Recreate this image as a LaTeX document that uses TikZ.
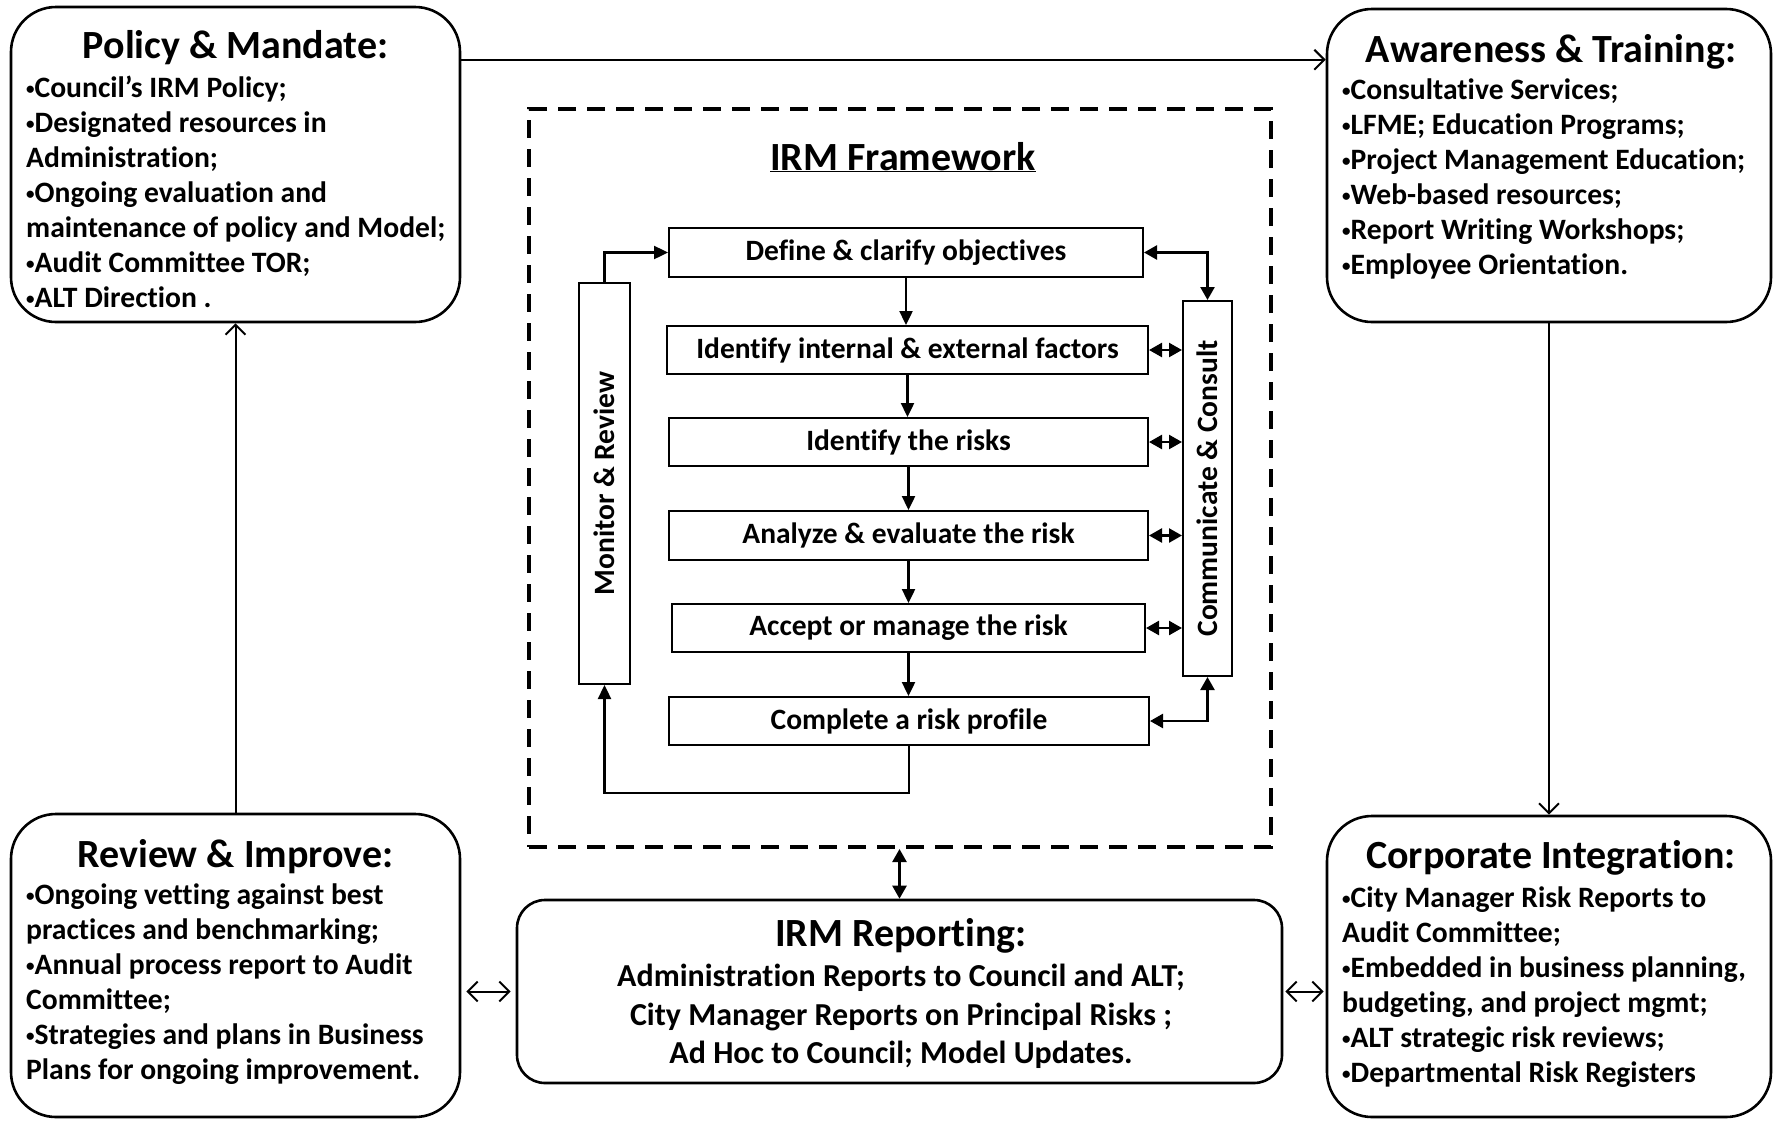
\documentclass[tikz,border=0pt]{standalone}
\usepackage{fontspec}
\setmainfont{Carlito}[Ligatures=NoCommon]
\usetikzlibrary{arrows.meta,calc}
\newcommand{\bul}{{\fontsize{17}{17}\selectfont\raisebox{3.5pt}{•}}}
\begin{document}
\begin{tikzpicture}[x=1pt,y=-1pt,
  outerbox/.style={draw, line width=2.6pt, rounded corners=45pt, inner sep=0pt},
  repbox/.style={draw, line width=2.6pt, rounded corners=28pt, inner sep=0pt},
  dashbox/.style={draw, line width=4pt, dash pattern=on 18pt off 11pt, inner sep=0pt},
  stepbox/.style={draw, line width=2pt, inner sep=0pt, font=\bfseries\fontsize{29.5}{34}\selectfont},
  sidebox/.style={draw, line width=2pt, inner sep=0pt},
  sidetext/.style={rotate=90, inner sep=0pt, font=\bfseries\fontsize{29.5}{34}\selectfont},
  headtext/.style={inner sep=0pt, font=\bfseries\fontsize{40}{46}\selectfont},
  titletext/.style={inner sep=0pt, font=\bfseries\fontsize{40}{46}\selectfont},
  bodytext/.style={inner sep=0pt, align=left, font=\bfseries\fontsize{29.6}{35}\selectfont},
  repbody/.style={inner sep=0pt, align=center, font=\bfseries\fontsize{32}{38.5}\selectfont},
  inarrow/.style={line width=2.4pt, -{Triangle[length=14pt,width=13pt]}},
  indarrow/.style={line width=2.4pt, {Triangle[length=13pt,width=14pt]}-{Triangle[length=13pt,width=14pt]}},
  outarrow/.style={line width=2pt, -{Straight Barb[length=10pt,width=20pt,line width=2pt]}},
  outdarrow/.style={line width=2pt, {Straight Barb[length=10pt,width=20pt,line width=2pt]}-{Straight Barb[length=10pt,width=20pt,line width=2pt]}}
]
\useasboundingbox (0,0) rectangle (1773,1122);

% ---- outer boxes
\node[outerbox, minimum width=449pt, minimum height=315pt] (policy) at (235.5,164.5) {};
\node[headtext, anchor=base] (policyh) at (235.5,58) {Policy \& Mandate:};
\node[bodytext, anchor=north west] (policyb) at (26,76) {\bul Council’s IRM Policy;\\\bul Designated resources in\\Administration;\\\bul Ongoing evaluation and\\maintenance of policy and Model;\\\bul Audit Committee TOR;\\\bul ALT Direction .};

\node[outerbox, minimum width=444pt, minimum height=313pt] (aware) at (1549,165.5) {};
\node[headtext, anchor=base] (awareh) at (1551,62) {Awareness \& Training:};
\node[bodytext, anchor=north west] (awareb) at (1342,79) {\bul Consultative Services;\\\bul LFME; Education Programs;\\\bul Project Management Education;\\\bul Web-based resources;\\\bul Report Writing Workshops;\\\bul Employee Orientation.};

\node[outerbox, minimum width=449pt, minimum height=303pt] (review) at (235.5,965.5) {};
\node[headtext, anchor=base] (reviewh) at (235.5,867) {Review \& Improve:};
\node[bodytext, anchor=north west] (reviewb) at (26,884) {\bul Ongoing vetting against best\\practices and benchmarking;\\\bul Annual process report to Audit\\Committee;\\\bul Strategies and plans in Business\\Plans for ongoing improvement.};

\node[outerbox, minimum width=444pt, minimum height=301pt] (corp) at (1549,966.5) {};
\node[headtext, anchor=base] (corph) at (1551,868) {Corporate Integration:};
\node[bodytext, anchor=north west] (corpb) at (1342,887) {\bul City Manager Risk Reports to\\Audit Committee;\\\bul Embedded in business planning,\\budgeting, and project mgmt;\\\bul ALT strategic risk reviews;\\\bul Departmental Risk Registers};

\node[repbox, minimum width=765pt, minimum height=183pt] (report) at (899.5,991.5) {};
\node[headtext, anchor=base] (reporth) at (901,946) {IRM Reporting:};
\node[repbody, anchor=north] (reportb) at (901,964) {Administration Reports to Council and ALT;\\City Manager Reports on Principal Risks ;\\Ad Hoc to Council; Model Updates.};

% ---- framework
\node[dashbox, minimum width=742pt, minimum height=738pt] (frame) at (900,478) {};
\node[titletext, anchor=base] (title) at (903,170) {\underline{IRM Framework}};

\node[stepbox, minimum width=474pt, minimum height=49pt] (define) at (906,252.5) {Define \& clarify objectives};
\node[stepbox, minimum width=481pt, minimum height=48pt] (idint) at (907.5,350) {Identify internal \& external factors};
\node[stepbox, minimum width=479pt, minimum height=48pt] (idrisk) at (908.5,442) {Identify the risks};
\node[stepbox, minimum width=479pt, minimum height=49pt] (analyze) at (908.5,535.5) {Analyze \& evaluate the risk};
\node[stepbox, minimum width=473pt, minimum height=48pt] (accept) at (908.5,628) {Accept or manage the risk};
\node[stepbox, minimum width=480pt, minimum height=48pt] (complete) at (909,721) {Complete a risk profile};

\node[sidebox, minimum width=51pt, minimum height=401pt] (monitor) at (604.5,483.5) {};
\node[sidetext] (monitorl) at (monitor.center) {Monitor \& Review};
\node[sidebox, minimum width=49pt, minimum height=375pt] (comm) at (1207.5,488.5) {};
\node[sidetext] (comml) at (comm.center) {Communicate \& Consult};

% vertical flow
\draw[inarrow] (define.south) -- (define.south |- idint.north);
\draw[inarrow] (idint.south) -- (idint.south |- idrisk.north);
\draw[inarrow] (idrisk.south) -- (idrisk.south |- analyze.north);
\draw[inarrow] (analyze.south) -- (analyze.south |- accept.north);
\draw[inarrow] (accept.south) -- (accept.south |- complete.north);

% monitor loop
\draw[inarrow] (monitor.north) |- (define.west);
\draw[inarrow] (complete.south) -- ++(0,47) -| (monitor.south);

% communicate links
\draw[indarrow] (define.east) -| (comm.north);
\draw[indarrow] (complete.east) -| (comm.south);
\draw[indarrow] (idint.east) -- (idint.east -| comm.west);
\draw[indarrow] (idrisk.east) -- (idrisk.east -| comm.west);
\draw[indarrow] (analyze.east) -- (analyze.east -| comm.west);
\draw[indarrow] (accept.east) -- (accept.east -| comm.west);

% framework <-> reporting
\draw[indarrow] (frame.south -| report.north) -- (report.north);

% ---- outer connectors
\draw[outarrow] ([yshift=-54pt]policy.north east) -- ([yshift=-54pt]policy.north east -| aware.west);
\draw[outarrow] (aware.south) -- (corp.north);
\draw[outarrow] (review.north) -- (policy.south);
\draw[outdarrow, shorten <=5pt, shorten >=5pt] (report.west) -- (report.west -| review.east);
\draw[outdarrow, shorten <=2pt, shorten >=2pt] (report.east) -- (report.east -| corp.west);
\end{tikzpicture}
\end{document}
